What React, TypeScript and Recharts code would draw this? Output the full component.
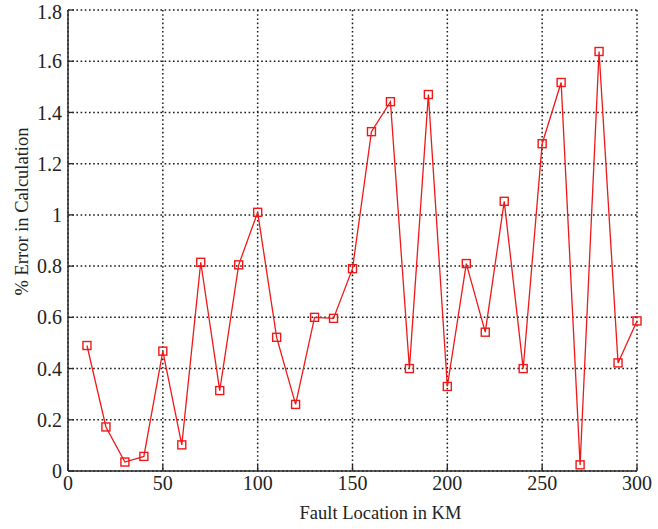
import React from 'react';
import {
  LineChart,
  Line,
  XAxis,
  YAxis,
  CartesianGrid,
} from 'recharts';

// fault location (km) and the resulting calculation error (%)
const locations = [
  10, 20, 30, 40, 50, 60, 70, 80, 90, 100,
  110, 120, 130, 140, 150, 160, 170, 180, 190, 200,
  210, 220, 230, 240, 250, 260, 270, 280, 290, 300,
];
const errors = [
  0.49, 0.172, 0.035, 0.057, 0.468, 0.102, 0.815, 0.314, 0.805, 1.01,
  0.522, 0.26, 0.6, 0.596, 0.79, 1.325, 1.442, 0.4, 1.47, 0.33,
  0.81, 0.542, 1.053, 0.4, 1.278, 1.517, 0.024, 1.638, 0.422, 0.586,
];
const xTicks = [0, 50, 100, 150, 200, 250, 300];
const yTicks = [0, 0.2, 0.4, 0.6, 0.8, 1, 1.2, 1.4, 1.6, 1.8];

const data = locations.map((km, i) => ({ km, err: errors[i] }));

const FONT = '"Liberation Serif", "Times New Roman", serif';
const RED = '#f01818';
const FRAME = '#2a2a2a';

const SquareDot = (props: any) => {
  const { cx, cy } = props;
  if (cx == null || cy == null) return null;
  const s = 8;
  return (
    <rect
      x={cx - s / 2}
      y={cy - s / 2}
      width={s}
      height={s}
      fill="none"
      stroke={RED}
      strokeWidth={1.4}
    />
  );
};

const YTitle = (props: any) => {
  const { viewBox } = props;
  const x = viewBox.x + 14;
  const y = viewBox.y + viewBox.height / 2 - 29;
  return (
    <text
      x={x}
      y={y}
      transform={`rotate(-90, ${x}, ${y})`}
      textAnchor="middle"
      dominantBaseline="central"
      fontFamily={FONT}
      fontSize={18.5}
      fill="#222"
    >
      % Error in Calculation
    </text>
  );
};

const tickStyle = { fontFamily: FONT, fontSize: 20, fill: '#222' };
const blank = () => '';

export default function App() {
  return (
    <div style={{ position: 'absolute', left: 0, top: 0, background: '#fff' }}>
      <LineChart
        width={658}
        height={529}
        data={data}
        margin={{ top: 10, right: 21, bottom: 8, left: 8 }}
      >
        <CartesianGrid
          stroke="#1a1a1a"
          strokeWidth={1.5}
          strokeDasharray="1.6 2.6"
          verticalValues={xTicks}
          horizontalValues={yTicks}
        />
        <XAxis
          dataKey="km"
          type="number"
          domain={[0, 300]}
          ticks={xTicks}
          height={50}
          axisLine={{ stroke: FRAME, strokeWidth: 1.5 }}
          tickLine={{ stroke: FRAME, strokeWidth: 1.3 }}
          tickSize={-6}
          tickMargin={11}
          tick={tickStyle}
          label={{
            value: 'Fault Location in KM',
            position: 'insideBottom',
            offset: 2,
            dx: 28,
            style: { fontFamily: FONT, fontSize: 18.5, fill: '#222' },
          }}
        />
        <XAxis
          xAxisId="top"
          orientation="top"
          dataKey="km"
          type="number"
          domain={[0, 300]}
          ticks={xTicks}
          height={0}
          axisLine={{ stroke: FRAME, strokeWidth: 1.5 }}
          tickLine={{ stroke: FRAME, strokeWidth: 1.3 }}
          tickSize={-6}
          tickFormatter={blank}
        />
        <YAxis
          type="number"
          domain={[0, 1.8]}
          ticks={yTicks}
          width={60}
          axisLine={{ stroke: FRAME, strokeWidth: 1.5 }}
          tickLine={{ stroke: FRAME, strokeWidth: 1.3 }}
          tickSize={-6}
          tickMargin={12}
          tick={tickStyle}
          label={{ content: <YTitle /> }}
        />
        <YAxis
          yAxisId="right"
          orientation="right"
          type="number"
          domain={[0, 1.8]}
          ticks={yTicks}
          width={0}
          axisLine={{ stroke: FRAME, strokeWidth: 1.5 }}
          tickLine={{ stroke: FRAME, strokeWidth: 1.3 }}
          tickSize={-6}
          tickFormatter={blank}
        />
        <Line
          type="linear"
          dataKey="err"
          stroke={RED}
          strokeWidth={1.3}
          dot={<SquareDot />}
          activeDot={false}
          isAnimationActive={false}
        />
      </LineChart>
    </div>
  );
}
